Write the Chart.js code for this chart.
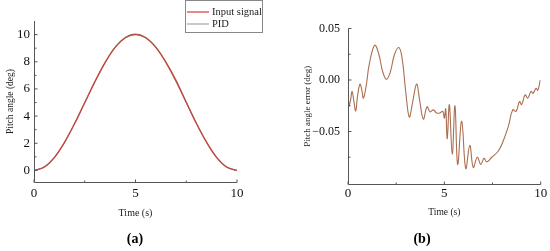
<!DOCTYPE html>
<html>
<head>
<meta charset="utf-8">
<script src="https://cdn.jsdelivr.net/npm/chart.js@4.4.0/dist/chart.umd.min.js"></script>
<style>
  html, body { margin: 0; padding: 0; background: #fff; }
  #wrap { position: relative; width: 550px; height: 251px; }
  canvas { position: absolute; top: 0; }
</style>
</head>
<body>
<div id="wrap">
  <canvas id="chartA" width="275" height="251" style="left:0"></canvas>
  <canvas id="chartB" width="275" height="251" style="left:275px"></canvas>
</div>
<script>
// (a) pitch angle tracking
const timeA = [0, 0.5, 1, 1.5, 2, 2.5, 3, 3.5, 4, 4.5, 5, 5.5, 6, 6.5, 7, 7.5, 8, 8.5, 9, 9.5, 10];
const inputSignal = [0, 0.24, 0.95, 2.07, 3.45, 5.0, 6.55, 7.94, 9.05, 9.76, 10, 9.76, 9.05, 7.94, 6.55, 5.0, 3.45, 2.07, 0.95, 0.24, 0];
const pidOutput = [0, 0.26, 0.95, 2.04, 3.45, 4.98, 6.52, 7.94, 9.08, 9.78, 10.03, 9.79, 9.08, 7.98, 6.63, 5.03, 3.48, 2.09, 0.97, 0.25, 0];
const xTicksA = [0, 5, 10];
const xMinorA = [2.5, 7.5];
const yTicksA = [0, 2, 4, 6, 8, 10];
const yMinorA = [1, 3, 5, 7, 9];

// (b) pitch angle error
const timeB = [0, 0.05, 0.13, 0.21, 0.3, 0.4, 0.5, 0.62, 0.72, 0.8, 0.95, 1.1, 1.38, 1.6, 1.8, 2.0, 2.2, 2.4, 2.63, 2.8, 3.0, 3.18, 3.35, 3.56, 3.72, 3.91, 4.1, 4.26, 4.43, 4.6, 4.77, 4.92, 5.0, 5.07, 5.15, 5.26, 5.41, 5.55, 5.69, 5.9, 6.11, 6.32, 6.5, 6.71, 6.89, 7.06, 7.2, 7.46, 7.8, 8.06, 8.32, 8.55, 8.72, 8.9, 9.01, 9.19, 9.33, 9.5, 9.6, 9.76, 9.85, 9.98];
const pitchError = [0, -0.025, -0.02, -0.011, -0.02, -0.03, -0.015, -0.004, -0.01, -0.0176, -0.005, 0.015, 0.0337, 0.025, 0.008, 0.0007, 0.008, 0.024, 0.0315, 0.022, -0.012, -0.036, -0.022, -0.004, -0.02, -0.038, -0.026, -0.031, -0.029, -0.032, -0.032, -0.0305, -0.037, -0.028, -0.057, -0.024, -0.072, -0.025, -0.082, -0.04, -0.086, -0.0635, -0.085, -0.075, -0.082, -0.076, -0.0795, -0.075, -0.069, -0.059, -0.045, -0.029, -0.0305, -0.021, -0.024, -0.0145, -0.0176, -0.011, -0.013, -0.008, -0.01, 0.0];
const xTicksB = [0, 5, 10];
const xMinorB = [2.5, 7.5];
const yTicksB = [-0.05, 0, 0.05];
const yMinorB = [-0.075, -0.025, 0.025];

const SERIF = "'Liberation Serif', 'Times New Roman', serif";
const AXIS = '#555';

// axis lines, inward ticks, panel letter and optional legend box
const axisDecor = {
  id: 'axisDecor',
  afterDraw(chart, args, opts) {
    const ctx = chart.ctx;
    const a = chart.chartArea;
    const sx = chart.scales.x, sy = chart.scales.y;
    ctx.save();
    ctx.strokeStyle = AXIS;
    ctx.lineWidth = 1;
    ctx.beginPath();
    const L = Math.round(a.left) + 0.5, B = Math.round(a.bottom) + 0.5;
    ctx.moveTo(L, a.top);
    ctx.lineTo(L, B);
    ctx.lineTo(a.right, B);
    sx.ticks.forEach(t => { const p = sx.getPixelForValue(t.value); ctx.moveTo(p, B); ctx.lineTo(p, B - 3); });
    opts.xMinor.forEach(v => { const p = sx.getPixelForValue(v); ctx.moveTo(p, B); ctx.lineTo(p, B - 2); });
    sy.ticks.forEach(t => { const p = sy.getPixelForValue(t.value); ctx.moveTo(L, p); ctx.lineTo(L + 3, p); });
    opts.yMinor.forEach(v => { const p = sy.getPixelForValue(v); ctx.moveTo(L, p); ctx.lineTo(L + 2, p); });
    ctx.stroke();

    ctx.fillStyle = '#000';
    ctx.font = 'bold 14px ' + SERIF;
    ctx.textAlign = 'center';
    ctx.textBaseline = 'middle';
    ctx.fillText(opts.letter, opts.letterX, 239);

    if (opts.legend) {
      const lx = 185, ly = 0, lw = 77, lh = 32;
      ctx.strokeStyle = '#888';
      ctx.strokeRect(lx + 0.5, ly + 0.5, lw, lh);
      ctx.font = '10.5px ' + SERIF;
      ctx.textAlign = 'left';
      chart.data.datasets.forEach((ds, i) => {
        const yy = 12 + i * 12;
        ctx.strokeStyle = ds.legendColor;
        ctx.lineWidth = 1.3;
        ctx.beginPath();
        ctx.moveTo(lx + 2, yy);
        ctx.lineTo(lx + 24, yy);
        ctx.stroke();
        ctx.fillStyle = '#222';
        ctx.fillText(ds.label, lx + 27, yy + 0.5);
      });
    }
    ctx.restore();
  }
};

function setTicks(values) {
  return scale => { scale.ticks = values.map(v => ({ value: v })); };
}

new Chart(document.getElementById('chartA'), {
  type: 'line',
  data: {
    datasets: [
      {
        label: 'Input signal',
        data: timeA.map((t, i) => ({ x: t, y: inputSignal[i] })),
        borderColor: 'rgb(200,70,60)',
        legendColor: 'rgb(220,70,70)',
        borderWidth: 1.2,
        pointRadius: 0,
        cubicInterpolationMode: 'monotone'
      },
      {
        label: 'PID',
        data: timeA.map((t, i) => ({ x: t, y: pidOutput[i] })),
        borderColor: 'rgba(120,100,80,0.88)',
        legendColor: 'rgb(170,170,170)',
        borderWidth: 1.2,
        pointRadius: 0,
        cubicInterpolationMode: 'monotone'
      }
    ]
  },
  options: {
    responsive: false,
    animation: false,
    layout: { padding: { left: 0, top: 21, right: 38, bottom: 32 } },
    plugins: {
      legend: { display: false },
      tooltip: { enabled: false },
      axisDecor: { letter: '(a)', letterX: 135, xMinor: xMinorA, yMinor: yMinorA, legend: true }
    },
    scales: {
      x: {
        type: 'linear', min: 0, max: 10,
        afterBuildTicks: setTicks(xTicksA),
        afterFit: s => { s.height = 37; },
        grid: { display: false, drawTicks: false },
        border: { display: false },
        ticks: { padding: 4, color: '#111', font: { family: SERIF, size: 13 } },
        title: { display: true, text: 'Time (s)', color: '#222', padding: 0, font: { family: SERIF, size: 10 } }
      },
      y: {
        type: 'linear', min: -0.85, max: 11,
        afterBuildTicks: setTicks(yTicksA),
        afterFit: s => { s.width = 34; },
        grid: { display: false, drawTicks: false },
        border: { display: false },
        ticks: { padding: 4, color: '#111', font: { family: SERIF, size: 13 } },
        title: { display: true, text: 'Pitch angle (deg)', color: '#222', padding: { top: 5, bottom: 0 }, font: { family: SERIF, size: 9.5 } }
      }
    }
  },
  plugins: [axisDecor]
});

new Chart(document.getElementById('chartB'), {
  type: 'line',
  data: {
    datasets: [
      {
        label: 'Pitch angle error',
        data: timeB.map((t, i) => ({ x: t, y: pitchError[i] })),
        borderColor: 'rgb(170,110,80)',
        borderWidth: 1.1,
        pointRadius: 0,
        tension: 0.4
      }
    ]
  },
  options: {
    responsive: false,
    animation: false,
    layout: { padding: { left: 0, top: 28.5, right: 9.3, bottom: 33 } },
    plugins: {
      legend: { display: false },
      tooltip: { enabled: false },
      axisDecor: { letter: '(b)', letterX: 147, xMinor: xMinorB, yMinor: yMinorB, legend: false }
    },
    scales: {
      x: {
        type: 'linear', min: 0, max: 10,
        afterBuildTicks: setTicks(xTicksB),
        afterFit: s => { s.height = 34; },
        grid: { display: false, drawTicks: false },
        border: { display: false },
        ticks: { padding: 2, color: '#111', font: { family: SERIF, size: 13 } },
        title: { display: true, text: 'Time (s)', color: '#222', padding: 0, font: { family: SERIF, size: 9.5 } }
      },
      y: {
        type: 'linear', min: -0.101, max: 0.05,
        afterBuildTicks: setTicks(yTicksB),
        afterFit: s => { s.width = 73; },
        grid: { display: false, drawTicks: false },
        border: { display: false },
        ticks: {
          padding: 8, color: '#111', font: { family: SERIF, size: 12 },
          callback: v => v.toFixed(2).replace('-', '\u2212')
        },
        title: { display: true, text: 'Pitch angle error (deg)', color: '#222', padding: { top: 27, bottom: 0 }, font: { family: SERIF, size: 9 } }
      }
    }
  },
  plugins: [axisDecor]
});
</script>
</body>
</html>
